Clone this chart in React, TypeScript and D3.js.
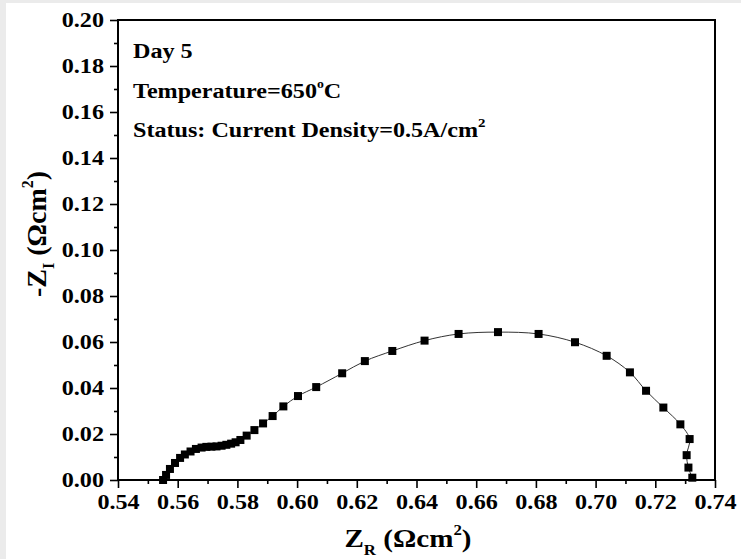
import React, { useEffect, useRef } from "react";
import * as d3 from "d3";

const zr: number[] = [
  0.5551, 0.5561, 0.5574, 0.5591, 0.5608, 0.5624, 0.5643, 0.5661, 0.568, 0.5696,
  0.5713, 0.573, 0.5747, 0.5763, 0.5779, 0.5794, 0.581, 0.5831, 0.5857, 0.5886,
  0.5918, 0.5954, 0.6003, 0.6064, 0.6151, 0.6227, 0.6319, 0.6427, 0.6541, 0.6673,
  0.6809, 0.6931, 0.7037, 0.7115, 0.7169, 0.7227, 0.7284, 0.7315, 0.7305, 0.7311,
  0.7324,
];
const zi: number[] = [
  0.0, 0.0022, 0.0048, 0.0074, 0.0096, 0.0111, 0.0124, 0.0135, 0.0141, 0.0144,
  0.0145, 0.0146, 0.0149, 0.0153, 0.0158, 0.0164, 0.0174, 0.0193, 0.0217, 0.0246,
  0.0278, 0.032, 0.0365, 0.0404, 0.0464, 0.0517, 0.0561, 0.0606, 0.0635, 0.0643,
  0.0635, 0.0599, 0.054, 0.0468, 0.0388, 0.0315, 0.0242, 0.0178, 0.0108, 0.0054,
  0.001,
];
const xTicks: number[] = [0.54, 0.56, 0.58, 0.6, 0.62, 0.64, 0.66, 0.68, 0.7, 0.72, 0.74];
const yTicks: number[] = [0.0, 0.02, 0.04, 0.06, 0.08, 0.1, 0.12, 0.14, 0.16, 0.18, 0.2];
const xMinor: number[] = [0.55, 0.57, 0.59, 0.61, 0.63, 0.65, 0.67, 0.69, 0.71, 0.73];
const yMinor: number[] = [0.01, 0.03, 0.05, 0.07, 0.09, 0.11, 0.13, 0.15, 0.17, 0.19];
const notes: string[] = ["Day 5", "Temperature=650", "Status: Current Density=0.5A/cm"];

const W = 741;
const H = 559;
const L = 118, R = 715, T = 20, B = 480;
const SX = 1.15;
const FONT = "'Liberation Serif', 'Times New Roman', serif";

export default function App() {
  const ref = useRef<SVGSVGElement>(null);
  const x = d3.scaleLinear().domain([0.54, 0.74]).range([L, R]);
  const y = d3.scaleLinear().domain([0, 0.2]).range([B, T]);

  useEffect(() => {
    const svg = d3.select(ref.current);
    const gx = svg.select<SVGGElement>(".xaxis");
    gx.call(
      d3.axisBottom(x).tickValues(xTicks).tickSize(8).tickSizeOuter(0).tickPadding(6).tickFormat(d3.format(".2f")) as any
    );
    const gxm = svg.select<SVGGElement>(".xminor");
    gxm.call(d3.axisBottom(x).tickValues(xMinor).tickSize(4).tickSizeOuter(0).tickFormat(() => "") as any);
    const gy = svg.select<SVGGElement>(".yaxis");
    gy.call(
      d3.axisLeft(y).tickValues(yTicks).tickSize(8).tickSizeOuter(0).tickPadding(5).tickFormat(d3.format(".2f")) as any
    );
    const gym = svg.select<SVGGElement>(".yminor");
    gym.call(d3.axisLeft(y).tickValues(yMinor).tickSize(4).tickSizeOuter(0).tickFormat(() => "") as any);
    [gx, gxm, gy, gym].forEach((g) => {
      g.select(".domain").remove();
      g.selectAll(".tick line").attr("stroke", "#000").attr("stroke-width", 1.6);
      g.selectAll(".tick text")
        .attr("font-family", FONT)
        .attr("font-weight", "bold")
        .attr("font-size", 21)
        .attr("fill", "#000")
        .attr("transform", `scale(${SX},1)`);
    });
    gy.selectAll(".tick text").attr("x", -14 / SX);
  }, []);

  const pts = zr.map((v, i) => [x(v), y(zi[i])] as [number, number]);
  const line = d3.line().curve(d3.curveCatmullRom)(pts) || "";

  return (
    <svg
      ref={ref}
      width={W}
      height={H}
      style={{ position: "absolute", left: 0, top: 0, display: "block" }}
    >
      <rect x={0} y={0} width={W} height={H} fill="#ebebeb" />
      <rect x={6} y={3} width={W - 6} height={H - 3} fill="#fff" />
      <path d={line} fill="none" stroke="#333" strokeWidth={1} />
      {pts.map((p, i) => (
        <rect key={i} x={p[0] - 4} y={p[1] - 4} width={8} height={8} fill="#000" />
      ))}
      <rect x={L} y={T} width={R - L} height={B - T} fill="none" stroke="#000" strokeWidth={2} />
      <g className="xaxis" transform={`translate(0,${B})`} />
      <g className="xminor" transform={`translate(0,${B})`} />
      <g className="yaxis" transform={`translate(${L},0)`} />
      <g className="yminor" transform={`translate(${L},0)`} />
      <g fontFamily={FONT} fontWeight="bold" fontSize={21} fill="#000">
        <text transform={`translate(133,58) scale(${SX},1)`}>{notes[0]}</text>
        <text transform={`translate(133,98) scale(${SX},1)`}>
          {notes[1]}
          <tspan fontSize={12} dy={-10}>o</tspan>
          <tspan dy={10}>C</tspan>
        </text>
        <text transform={`translate(133,137) scale(${SX},1)`}>
          {notes[2]}
          <tspan fontSize={13} dy={-10}>2</tspan>
        </text>
      </g>
      <text
        transform={`translate(408,547) scale(1.12,1)`}
        textAnchor="middle"
        fontFamily={FONT}
        fontWeight="bold"
        fontSize={26}
        fill="#000"
      >
        Z<tspan fontSize={15} dy={8}>R</tspan>
        <tspan dy={-8}> (Ωcm</tspan>
        <tspan fontSize={15} dy={-12}>2</tspan>
        <tspan dy={12}>)</tspan>
      </text>
      <text
        transform={`translate(46,234) rotate(-90)`}
        textAnchor="middle"
        fontFamily={FONT}
        fontWeight="bold"
        fontSize={28}
        fill="#000"
      >
        -Z<tspan fontSize={16} dy={8}>I</tspan>
        <tspan dy={-8}> (Ωcm</tspan>
        <tspan fontSize={16} dy={-13}>2</tspan>
        <tspan dy={13}>)</tspan>
      </text>
    </svg>
  );
}
